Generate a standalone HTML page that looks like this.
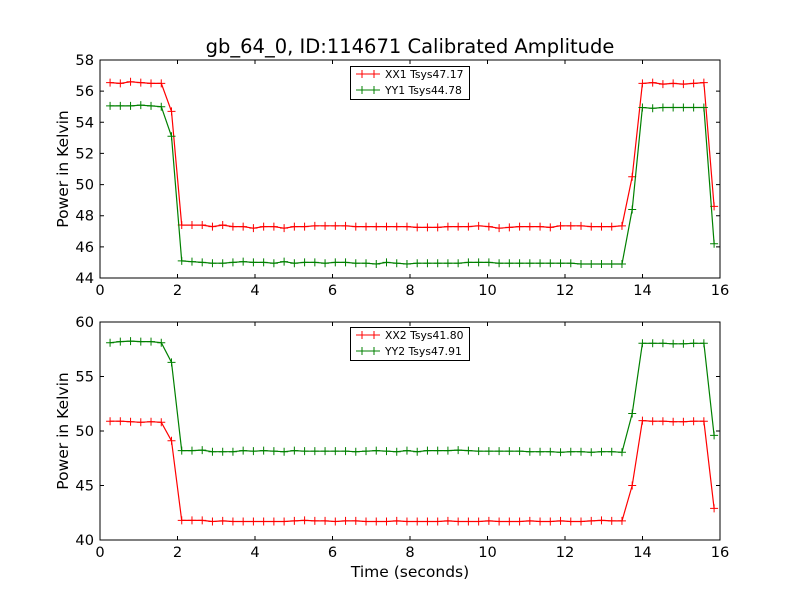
<!DOCTYPE html>
<html><head><meta charset="utf-8"><style>
body{margin:0;background:#fff;}
svg{display:block;font-family:"DejaVu Sans","Liberation Sans",sans-serif;}
</style></head><body>
<svg id="chart" width="800" height="600" viewBox="0 0 800 600">
<rect width="800" height="600" fill="#fff"/>
<text x="410" y="53" font-size="19.5" text-anchor="middle">gb_64_0, ID:114671 Calibrated Amplitude</text>
</svg>
<script>
const nPoints = 60;
const tStart = 0.26;
const tStep = 0.2642;
const xx1 = [56.55,56.5,56.6,56.55,56.5,56.5,54.7,
47.4,47.4,47.4,47.3,47.4,47.3,47.3,47.2,47.3,47.3,47.2,47.3,47.3,47.35,47.35,47.35,47.35,47.3,47.3,47.3,47.3,47.3,47.3,47.25,47.25,47.25,47.3,47.3,47.3,47.35,47.3,47.2,47.25,47.3,47.3,47.3,47.25,47.35,47.35,47.35,47.3,47.3,47.3,47.35,
50.5,56.5,56.55,56.45,56.5,56.45,56.5,56.55,48.6];
const yy1 = [55.05,55.05,55.05,55.1,55.05,55.0,53.1,
45.1,45.05,45.0,44.95,44.95,45.0,45.05,45.0,45.0,44.95,45.05,44.95,45.0,45.0,44.95,45.0,45.0,44.95,44.95,44.9,45.0,44.95,44.9,44.95,44.95,44.95,44.95,44.95,45.0,45.0,45.0,44.95,44.95,44.95,44.95,44.95,44.95,44.95,44.95,44.9,44.9,44.9,44.9,44.9,
48.4,54.95,54.9,54.95,54.95,54.95,54.95,54.95,46.2];
const xx2 = [50.9,50.9,50.85,50.8,50.85,50.8,49.1,
41.8,41.8,41.8,41.7,41.75,41.7,41.7,41.7,41.7,41.7,41.7,41.75,41.8,41.75,41.75,41.7,41.75,41.75,41.7,41.7,41.7,41.75,41.7,41.7,41.7,41.7,41.75,41.7,41.7,41.7,41.75,41.7,41.7,41.7,41.75,41.7,41.7,41.75,41.7,41.7,41.75,41.8,41.75,41.75,
45.0,50.95,50.9,50.9,50.85,50.85,50.9,50.9,42.9];
const yy2 = [58.1,58.2,58.25,58.2,58.2,58.1,56.3,
48.2,48.2,48.25,48.1,48.1,48.1,48.2,48.15,48.2,48.15,48.1,48.2,48.15,48.15,48.15,48.15,48.15,48.1,48.15,48.2,48.15,48.1,48.2,48.1,48.2,48.2,48.2,48.25,48.2,48.15,48.15,48.15,48.15,48.15,48.1,48.1,48.1,48.05,48.1,48.1,48.05,48.1,48.1,48.05,
51.6,58.05,58.05,58.05,58.0,58.0,58.05,58.05,49.6];
const xTicks = [0,2,4,6,8,10,12,14,16];
const yTicksTop = [44,46,48,50,52,54,56,58];
const yTicksBot = [40,45,50,55,60];
const legendTop = ["XX1 Tsys47.17","YY1 Tsys44.78"];
const legendBot = ["XX2 Tsys41.80","YY2 Tsys47.91"];

const NS="http://www.w3.org/2000/svg";
const svg=document.getElementById('chart');
function mk(tag,attrs,parent){const e=document.createElementNS(NS,tag);for(const k in attrs)e.setAttribute(k,attrs[k]);(parent||svg).appendChild(e);return e;}
const times=[];for(let i=0;i<nPoints;i++)times.push(tStart+i*tStep);

function panel(top,bottom,ymin,ymax,yTicks,series,colors,labels,name,legendY,showXLabel){
  const L=100,R=720;
  const xs=v=>L+(v-0)/(16-0)*(R-L);
  const ys=v=>bottom-(v-ymin)/(ymax-ymin)*(bottom-top);
  const g=mk('g',{});
  
  
  series.forEach((vals,si)=>{
    const sg=mk('g',{},g);
    
    
    const pts=vals.map((v,i)=>xs(times[i]).toFixed(1)+','+ys(v).toFixed(1)).join(' ');
    mk('polyline',{points:pts,fill:'none',stroke:colors[si],'stroke-width':1.2},sg);
    vals.forEach((v,i)=>{
      const x=xs(times[i]),y=ys(v);
      const m=mk('path',{d:`M${x-4},${y}H${x+4}M${x},${y-4}V${y+4}`,stroke:colors[si],'stroke-width':1},sg);
      
      
    });
  });
  const f=mk('rect',{x:L,y:top,width:R-L,height:bottom-top,fill:'none',stroke:'#000','stroke-width':1},g);
  
  
  xTicks.forEach(t=>{
    const x=xs(t);
    mk('path',{d:`M${x},${bottom}v-4M${x},${top}v4`,stroke:'#000'},g);
    const tx=mk('text',{x:x,y:bottom+17,'font-size':14.6,'text-anchor':'middle'},g);
    tx.textContent=t;
    
    
  });
  yTicks.forEach(t=>{
    const y=ys(t);
    mk('path',{d:`M${L},${y}h4M${R},${y}h-4`,stroke:'#000'},g);
    const tx=mk('text',{x:L-6,y:y+5,'font-size':14.6,'text-anchor':'end'},g);
    tx.textContent=t;
    
    
  });
  const yl=mk('text',{x:0,y:0,'font-size':15.5,'text-anchor':'middle',transform:`translate(68,${(top+bottom)/2}) rotate(-90)`},g);
  yl.textContent='Power in Kelvin';
  
  
  if(showXLabel){
    const xl=mk('text',{x:410,y:577,'font-size':15.5,'text-anchor':'middle'},g);
    xl.textContent='Time (seconds)';
    
    
  }
  const lg=mk('g',{},g);
  
  
  mk('rect',{x:350.5,y:legendY+0.5,width:119,height:33,fill:'#fff',stroke:'#000','stroke-width':1},lg);
  labels.forEach((lab,i)=>{
    const y=legendY+8+i*16;
    mk('path',{d:`M356,${y}h24M362,${y-4}v8M374,${y-4}v8`,stroke:colors[i],'stroke-width':1},lg);
    const tx=mk('text',{x:385,y:y+4,'font-size':10.8},lg);
    tx.textContent=lab;
    
    
  });
}
panel(60,278,44,58,yTicksTop,[xx1,yy1],['#ff0000','#008000'],legendTop,'top-panel',66,false);
panel(322,540,40,60,yTicksBot,[xx2,yy2],['#ff0000','#008000'],legendBot,'bottom-panel',327,true);
</script>
</body></html>
